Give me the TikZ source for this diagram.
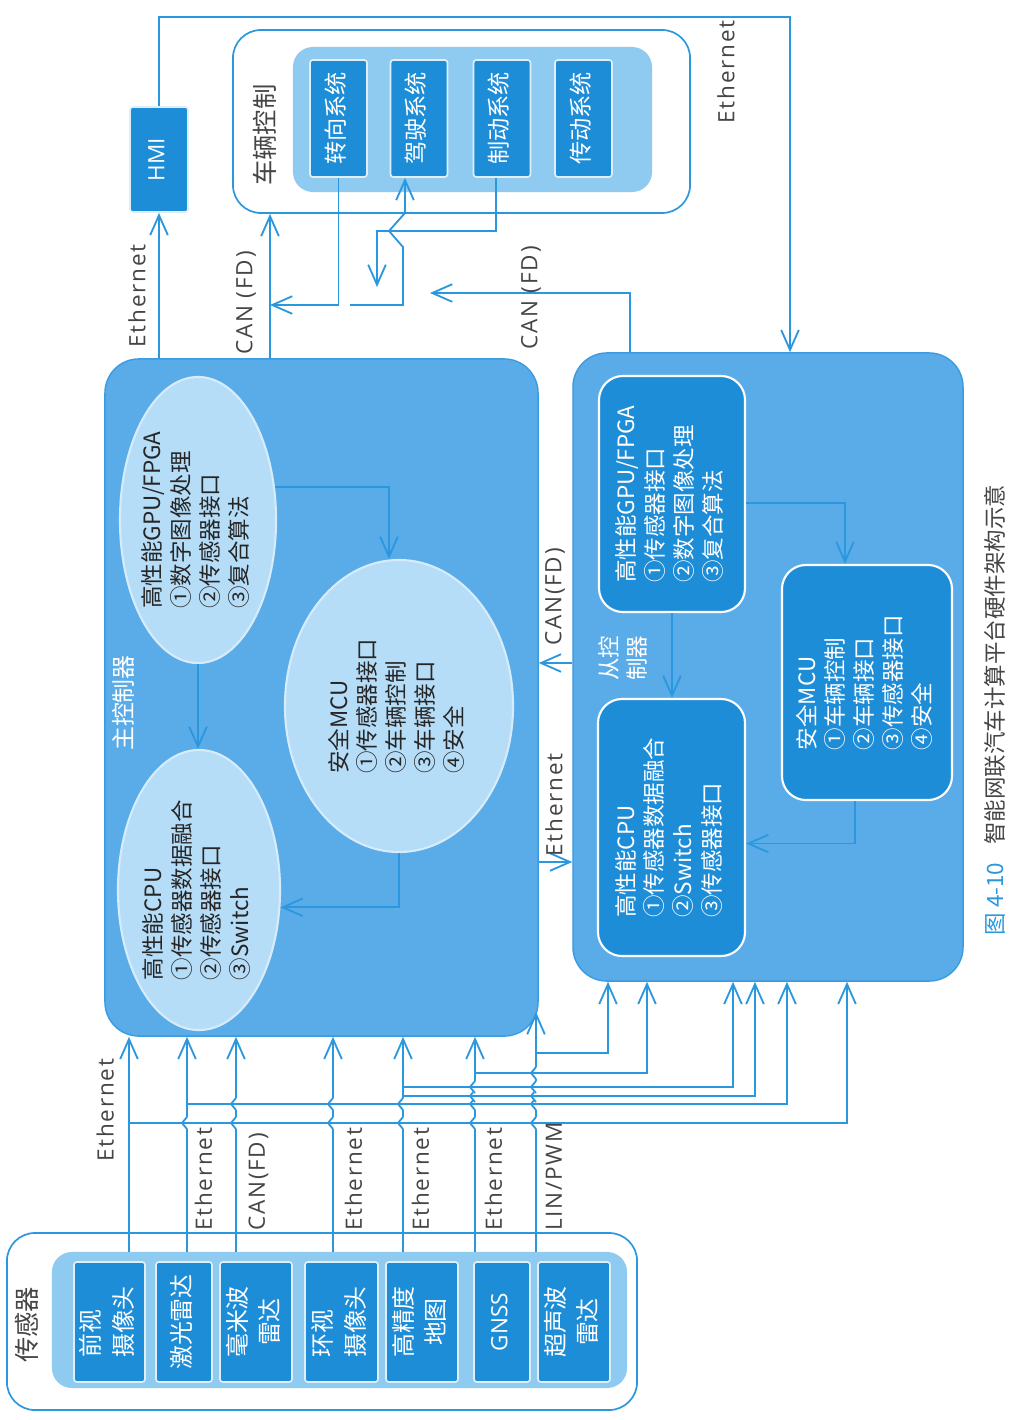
\documentclass[tikz,border=0pt]{standalone}
\usepackage{fontspec}
\setmainfont{Open Sans}
\newfontfamily\cjk{Noto Sans CJK SC}
\newfontfamily\lblfont[LetterSpace=8]{Open Sans}
\usetikzlibrary{shapes.geometric,arrows.meta}
\definecolor{linec}{HTML}{2A97DE}
\definecolor{ctrlfill}{HTML}{5AACE9}
\definecolor{ctrlline}{HTML}{3A9BE0}
\definecolor{ellfill}{HTML}{B6DDF8}
\definecolor{boxfill}{HTML}{1E8DD8}
\definecolor{panelfill}{HTML}{8FCAF1}
\definecolor{txtgray}{HTML}{454545}
\newcommand{\rt}[2][c]{\rotatebox{90}{\begin{tabular}{@{}#1@{}}#2\end{tabular}}}

\begin{document}
\begin{tikzpicture}[x=0.025cm, y=-0.025cm, >={Straight Barb[length=5mm,width=4.4mm]},
	bus/.style={draw=linec, line width=1.3pt},
	frame/.style={draw=linec, line width=1.2pt, fill=white, rounded corners=0.7cm},
	panel/.style={fill=panelfill, rounded corners=0.5cm},
	unit/.style={fill=boxfill, draw=white!85!linec, line width=1.2pt, rounded corners=2pt, text=white, inner sep=0pt, font=\cjk\fontsize{17}{23}\selectfont},
	ctrl/.style={fill=ctrlfill, draw=ctrlline, line width=1pt, rounded corners=0.85cm},
	chip/.style={ellipse, fill=ellfill, draw=ellfill!55!white, line width=1.5pt},
	chiptext/.style={inner sep=0pt, text=black!85, font=\cjk\fontsize{16}{20.5}\selectfont},
	chipbox/.style={fill=boxfill, draw=white, line width=1.5pt, rounded corners=0.6cm, text=white, inner sep=0pt, font=\cjk\fontsize{16}{20.5}\selectfont},
	title/.style={inner sep=0pt, text=txtgray, font=\cjk\fontsize{18}{20}\selectfont},
	lbl/.style={inner sep=0pt, text=txtgray, font=\lblfont\fontsize{16}{19}\selectfont}]
	\useasboundingbox (0,0) rectangle (1008,1420);

	% vehicle control
	\node[frame, minimum width=11.425cm, minimum height=4.575cm] (vctrl) at (461.5,121.5) {};
	\node[panel, minimum width=8.975cm, minimum height=3.625cm] (vpanel) at (472.5,119.5) {};
	\node[title] (vtitle) at (268,135) {\rt{车辆控制}};
	\node[unit, minimum width=1.425cm, minimum height=2.925cm, font=\cjk\fontsize{16.5}{20}\selectfont] (zx) at (338.5,118.5) {\rt{转向系统}};
	\node[unit, minimum width=1.425cm, minimum height=2.925cm, font=\cjk\fontsize{16.5}{20}\selectfont] (jz) at (419,118.5) {\rt{驾驶系统}};
	\node[unit, minimum width=1.425cm, minimum height=2.925cm, font=\cjk\fontsize{16.5}{20}\selectfont] (zd) at (502,118.5) {\rt{制动系统}};
	\node[unit, minimum width=1.425cm, minimum height=2.925cm, font=\cjk\fontsize{16.5}{20}\selectfont] (cd) at (583.5,118.5) {\rt{传动系统}};
	\node[unit, minimum width=1.45cm, minimum height=2.625cm, font=\rmfamily\fontsize{16}{19}\selectfont] (hmi) at (159,159.5) {\rt{HMI}};

	% main controller
	\node[ctrl, minimum width=10.825cm, minimum height=16.925cm] (mainc) at (321.5,697.5) {};
	\node[title, text=white, font=\cjk\fontsize{17}{20}\selectfont] (mtitle) at (127,703) {\rt{主控制器}};
	\node[chip, minimum width=3.9cm, minimum height=7.15cm] (mgpu) at (198,520) {};
	\node[chip, minimum width=4.05cm, minimum height=7.0cm] (mcpu) at (199,890) {};
	\node[chip, minimum width=5.7cm, minimum height=7.3cm] (mmcu) at (399,706) {};
	\node[chiptext] (mgput) at (mgpu) {\rt[l]{高性能GPU/FPGA\\①数字图像处理\\②传感器接口\\③复合算法}};
	\node[chiptext] (mcput) at (mcpu) {\rt[l]{高性能CPU\\①传感器数据融合\\②传感器接口\\③Switch}};
	\node[chiptext] (mmcut) at (mmcu) {\rt[l]{安全MCU\\①传感器接口\\②车辆控制\\③车辆接口\\④安全}};
	\draw[bus,->] (mgpu.south) -- (mgpu.south |- mcpu.north);
	\draw[bus,->] (mgpu.23) -| ([xshift=-0.25cm]mmcu.north);
	\draw[bus,->] (mmcu.south) |- (mcpu.-12);

	% slave controller
	\node[ctrl, minimum width=9.75cm, minimum height=15.7cm] (slavec) at (768,667) {};
	\node[title, text=white, font=\cjk\fontsize{16}{20}\selectfont] (stitle2) at (626,658) {\rt[l]{从控\\制器}};
	\node[chipbox, minimum width=3.65cm, minimum height=5.9cm] (sgpu) at (672,494) {\rt[l]{高性能GPU/FPGA\\①传感器接口\\②数字图像处理\\③复合算法}};
	\node[chipbox, minimum width=3.675cm, minimum height=6.425cm] (scpu) at (671.5,827.5) {\rt[l]{高性能CPU\\①传感器数据融合\\②Switch\\③传感器接口}};
	\node[chipbox, minimum width=4.25cm, minimum height=5.875cm] (smcu) at (867,682.5) {\rt[l]{安全MCU\\①车辆控制\\②车辆接口\\③传感器接口\\④安全}};
	\draw[bus,->] (sgpu.south) -- (sgpu.south |- scpu.north);
	\draw[bus,->] ([yshift=-0.225cm]sgpu.east) -| ([xshift=-0.55cm]smcu.north);
	\draw[bus,->] ([xshift=-0.3cm]smcu.south) |- ([yshift=-0.4cm]scpu.east);

	% sensors
	\node[frame, minimum width=15.75cm, minimum height=4.425cm] (sensors) at (322,1321.5) {};
	\node[panel, minimum width=14.375cm, minimum height=3.4cm] (spanel) at (339.5,1320) {};
	\node[title] (sentitle) at (30,1325) {\rt{传感器}};
	\node[unit, minimum width=1.775cm, minimum height=3cm] (s1) at (109.5,1322) {\rt[l]{前视\\摄像头}};
	\node[unit, minimum width=1.4cm, minimum height=3cm] (s2) at (184,1322) {\rt{激光雷达}};
	\node[unit, minimum width=1.8cm, minimum height=3cm] (s3) at (256,1322) {\rt{毫米波\\雷达}};
	\node[unit, minimum width=1.825cm, minimum height=3cm] (s4) at (341.5,1322) {\rt[l]{环视\\摄像头}};
	\node[unit, minimum width=1.8cm, minimum height=3cm] (s5) at (422,1322) {\rt{高精度\\地图}};
	\node[unit, minimum width=1.4cm, minimum height=3cm, font=\rmfamily\fontsize{16}{19}\selectfont] (s6) at (502,1322) {\rt{GNSS}};
	\node[unit, minimum width=1.8cm, minimum height=3cm] (s7) at (574,1322) {\rt{超声波\\雷达}};

	\foreach \n/\x in {b1/129, b2/187, b3/236, b4/333, b5/403, b6/475, b7/536}
		\coordinate (\n) at (\x,1252);
	\foreach \n in {b1,b2,b3,b4,b5,b6}
		\draw[bus,->] (\n) -- (\n |- mainc.south);
	\draw[bus,->] (b7) -- (b7 |- 0,1012);
	\foreach \x/\y in {187/1123, 236/1123, 333/1123, 403/1123, 475/1123, 536/1123,
			236/1104, 333/1104, 403/1104, 475/1104, 536/1104,
			475/1096, 536/1096, 475/1087, 536/1087, 536/1073} {
		\fill[white] (\x-2,\y-6) rectangle (\x+2,\y+6);
		\draw[bus] (\x,\y+6) -- (\x-5,\y) -- (\x,\y-6);
	}
	\foreach \b/\y/\sx in {b1/1123/847, b2/1104/787, b5/1096/755, b5/1087/733, b6/1073/647, b7/1053/608}
		\draw[bus,->] (\b |- 0,\y) -| (slavec.south -| \sx,0);

	% top links
	\draw[bus,->] (hmi.south |- mainc.north) -- (hmi.south);
	\coordinate (ethtop) at (790,17);
	\draw[bus,->] (hmi.north) |- (ethtop) -- (ethtop |- slavec.north);
	\coordinate (canm) at (mainc.north -| 270,0);
	\draw[bus,->] (canm) -- (canm |- vctrl.south);
	\coordinate (canj) at (270,305);
	\draw[bus,->] (zx.south) |- (canj);
	\coordinate (zdend) at (377,287);
	\draw[bus,->] ([xshift=-0.15cm]zd.south) |- (zdend |- 0,231) -- (zdend);
	\coordinate (jzin) at (350,305);
	\draw[bus,->] (jzin) -| (403,247) -- (389,231) -- (405,213) -- ([xshift=-0.35cm]jz.south);
	\coordinate (cans) at (430,293);
	\draw[bus,->] (slavec.north -| 630,0) |- (cans);

	% links between the controllers
	\draw[bus,->] (slavec.west |- 0,663) -- (mainc.east |- 0,663);
	\draw[bus,->] (mainc.east |- 0,862) -- (slavec.west |- 0,862);

	% labels
	\node[lbl] (lethh) at (140,296) {\rt{Ethernet}};
	\node[lbl] (lcanm) at (247,303) {\rt{CAN (FD)}};
	\node[lbl] (lcans) at (532,298) {\rt{CAN (FD)}};
	\node[lbl] (lethr) at (729,72) {\rt{Ethernet}};
	\node[lbl] (lcanmid) at (556,597) {\rt{CAN(FD)}};
	\node[lbl] (lethmid) at (557,805) {\rt{Ethernet}};
	\node[lbl, anchor=south east] (le1) at (122,1162) {\rt{Ethernet}};
	\node[lbl, anchor=south west] (le2) at (193,1231) {\rt{Ethernet}};
	\node[lbl, anchor=south west] (le3) at (246,1231) {\rt{CAN(FD)}};
	\node[lbl, anchor=south west] (le4) at (343,1231) {\rt{Ethernet}};
	\node[lbl, anchor=south west] (le5) at (410,1231) {\rt{Ethernet}};
	\node[lbl, anchor=south west] (le6) at (483,1231) {\rt{Ethernet}};
	\node[lbl, anchor=south west] (le7) at (543,1231) {\rt{LIN/PWM}};
	\node[inner sep=0pt, text=txtgray, font=\cjk\fontsize{16}{19}\selectfont] (caption) at (998,710) {\rt{\textcolor{linec}{图 4-10}\hspace{0.8em}智能网联汽车计算平台硬件架构示意}};
\end{tikzpicture}
\end{document}
